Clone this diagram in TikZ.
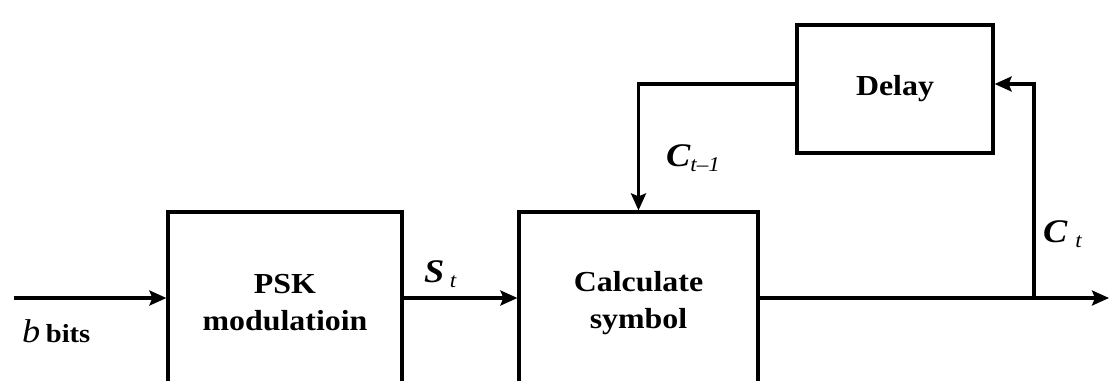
\documentclass[tikz,border=0pt]{standalone}
\usepackage{fontspec}
\setmainfont{Liberation Serif}[FakeStretch=1.1]
\usetikzlibrary{arrows.meta}
\tikzset{
  blk/.style={draw, line width=3.2pt, align=center, font=\bfseries\fontsize{29}{37}\selectfont, inner sep=0pt},
  arr/.style={line width=3.2pt, -{Stealth[length=17pt,width=15pt,inset=3pt]}},
  ln/.style={line width=3.2pt},
  lbl/.style={anchor=west, inner sep=0pt, font=\bfseries\itshape\fontsize{33}{33}\selectfont},
}
\newcommand{\subt}[1]{\raisebox{-0.35ex}{\mdseries\fontsize{21}{21}\selectfont #1}}
\begin{document}
\begin{tikzpicture}[x=1pt,y=-1pt]
\useasboundingbox (0,0) rectangle (1110,380);
\clip (0,0) rectangle (1110,380);
\node[blk, minimum width=234pt, minimum height=182pt] (psk) at (285,303) {PSK\\modulatioin};
\node[blk, minimum width=239pt, minimum height=182pt] (calc) at (638.5,303) {Calculate\\symbol};
\node[blk, minimum width=196pt, minimum height=128pt] (delay) at (895,89) {Delay};
\coordinate (in) at (14,298);
\coordinate (split) at (1034,298);
\coordinate (out) at (1109,298);
\coordinate (fb) at (1034,84);
\draw[arr] (in) -- (in -| psk.west);
\draw[arr] (psk.east |- in) -- (calc.west |- in);
\draw[ln] (calc.east |- in) -- (split);
\draw[arr] (split) -- (out);
\draw[arr] (split) -- (fb) -- (fb -| delay.east);
\draw[arr] (delay.west |- fb) -| (calc.north);
\node[lbl] (bl) at (22,331) {{\mdseries b}\,{\upshape\bfseries\fontsize{26}{26}\selectfont bits}};
\node[lbl] (sl) at (424,274) {S\,\subt{t}};
\node[lbl] (cl1) at (666,158) {C\subt{t\textendash 1}};
\node[lbl] (cl) at (1043,234) {C\hspace{8pt}\subt{t}};
\end{tikzpicture}
\end{document}
